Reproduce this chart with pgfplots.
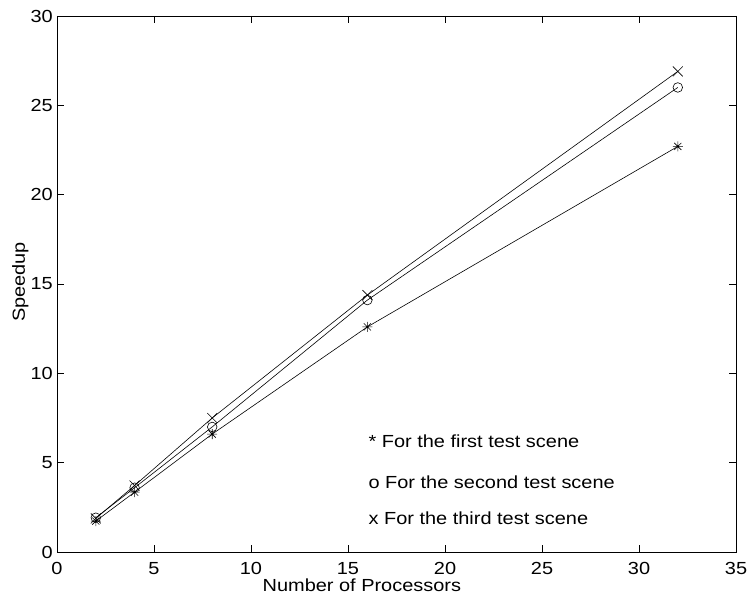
\documentclass[border=0pt]{standalone}
\usepackage{fontspec}
\setmainfont{Liberation Sans}[FakeStretch=1.14]
\usepackage{pgfplots}
\pgfplotsset{compat=1.18}

% MATLAB style '*' : plus and cross together
\pgfdeclareplotmark{mstar}{%
  \pgfpathmoveto{\pgfqpoint{-\pgfplotmarksize}{0pt}}%
  \pgfpathlineto{\pgfqpoint{\pgfplotmarksize}{0pt}}%
  \pgfpathmoveto{\pgfqpoint{0pt}{-\pgfplotmarksize}}%
  \pgfpathlineto{\pgfqpoint{0pt}{\pgfplotmarksize}}%
  \pgfpathmoveto{\pgfqpoint{-.7071\pgfplotmarksize}{-.7071\pgfplotmarksize}}%
  \pgfpathlineto{\pgfqpoint{.7071\pgfplotmarksize}{.7071\pgfplotmarksize}}%
  \pgfpathmoveto{\pgfqpoint{-.7071\pgfplotmarksize}{.7071\pgfplotmarksize}}%
  \pgfpathlineto{\pgfqpoint{.7071\pgfplotmarksize}{-.7071\pgfplotmarksize}}%
  \pgfusepathqstroke}

\newcommand{\lbl}{\fontsize{17.5bp}{20bp}\selectfont}

\begin{document}
\begin{tikzpicture}
\begin{axis}[
  at={(0,0)}, anchor=south west,
  scale only axis,
  width=679bp, height=536bp,
  xmin=0, xmax=35, ymin=0, ymax=30,
  xtick={0,5,...,35}, ytick={0,5,...,30},
  tick align=inside,
  major tick length=7bp,
  axis line style={line width=0.8bp},
  tick style={line width=0.6bp, black},
  every tick label/.append style={font=\lbl, inner sep=0pt},
  xticklabel style={anchor=north, yshift=-10bp},
  yticklabel style={anchor=east, xshift=-4bp},
  /pgf/number format/assume math mode=true,
  xlabel={Number of Processors},
  ylabel={Speedup},
  label style={font=\lbl, inner sep=0pt},
  xlabel style={at={(axis description cs:0.449,-0.073)}, anchor=base},
  ylabel style={at={(axis description cs:-0.0663,0.504)}, anchor=north},
  clip=false,
  every axis plot/.append style={black, line width=0.6bp, mark options={solid, line width=0.6bp}},
]
\addplot[mark=mstar, mark size=5bp] coordinates {(2,1.73) (4,3.35) (8,6.6) (16,12.6) (32,22.7)};
\addplot[mark=o, mark size=4.8bp] coordinates {(2,1.92) (4,3.6) (8,7.0) (16,14.1) (32,26.0)};
\addplot[mark=x, mark size=7bp] coordinates {(2,1.88) (4,3.72) (8,7.5) (16,14.38) (32,26.9)};

\node[anchor=base west, inner sep=0pt, font=\lbl] at (axis cs:16.05,5.84) {* For the first test scene};
\node[anchor=base west, inner sep=0pt, font=\lbl] at (axis cs:16.05,3.56) {o For the second test scene};
\node[anchor=base west, inner sep=0pt, font=\lbl] at (axis cs:16.05,1.55) {x For the third test scene};
\end{axis}
\path[use as bounding box] (-57bp,-42bp) rectangle (695bp,552bp);
\end{tikzpicture}
\end{document}
